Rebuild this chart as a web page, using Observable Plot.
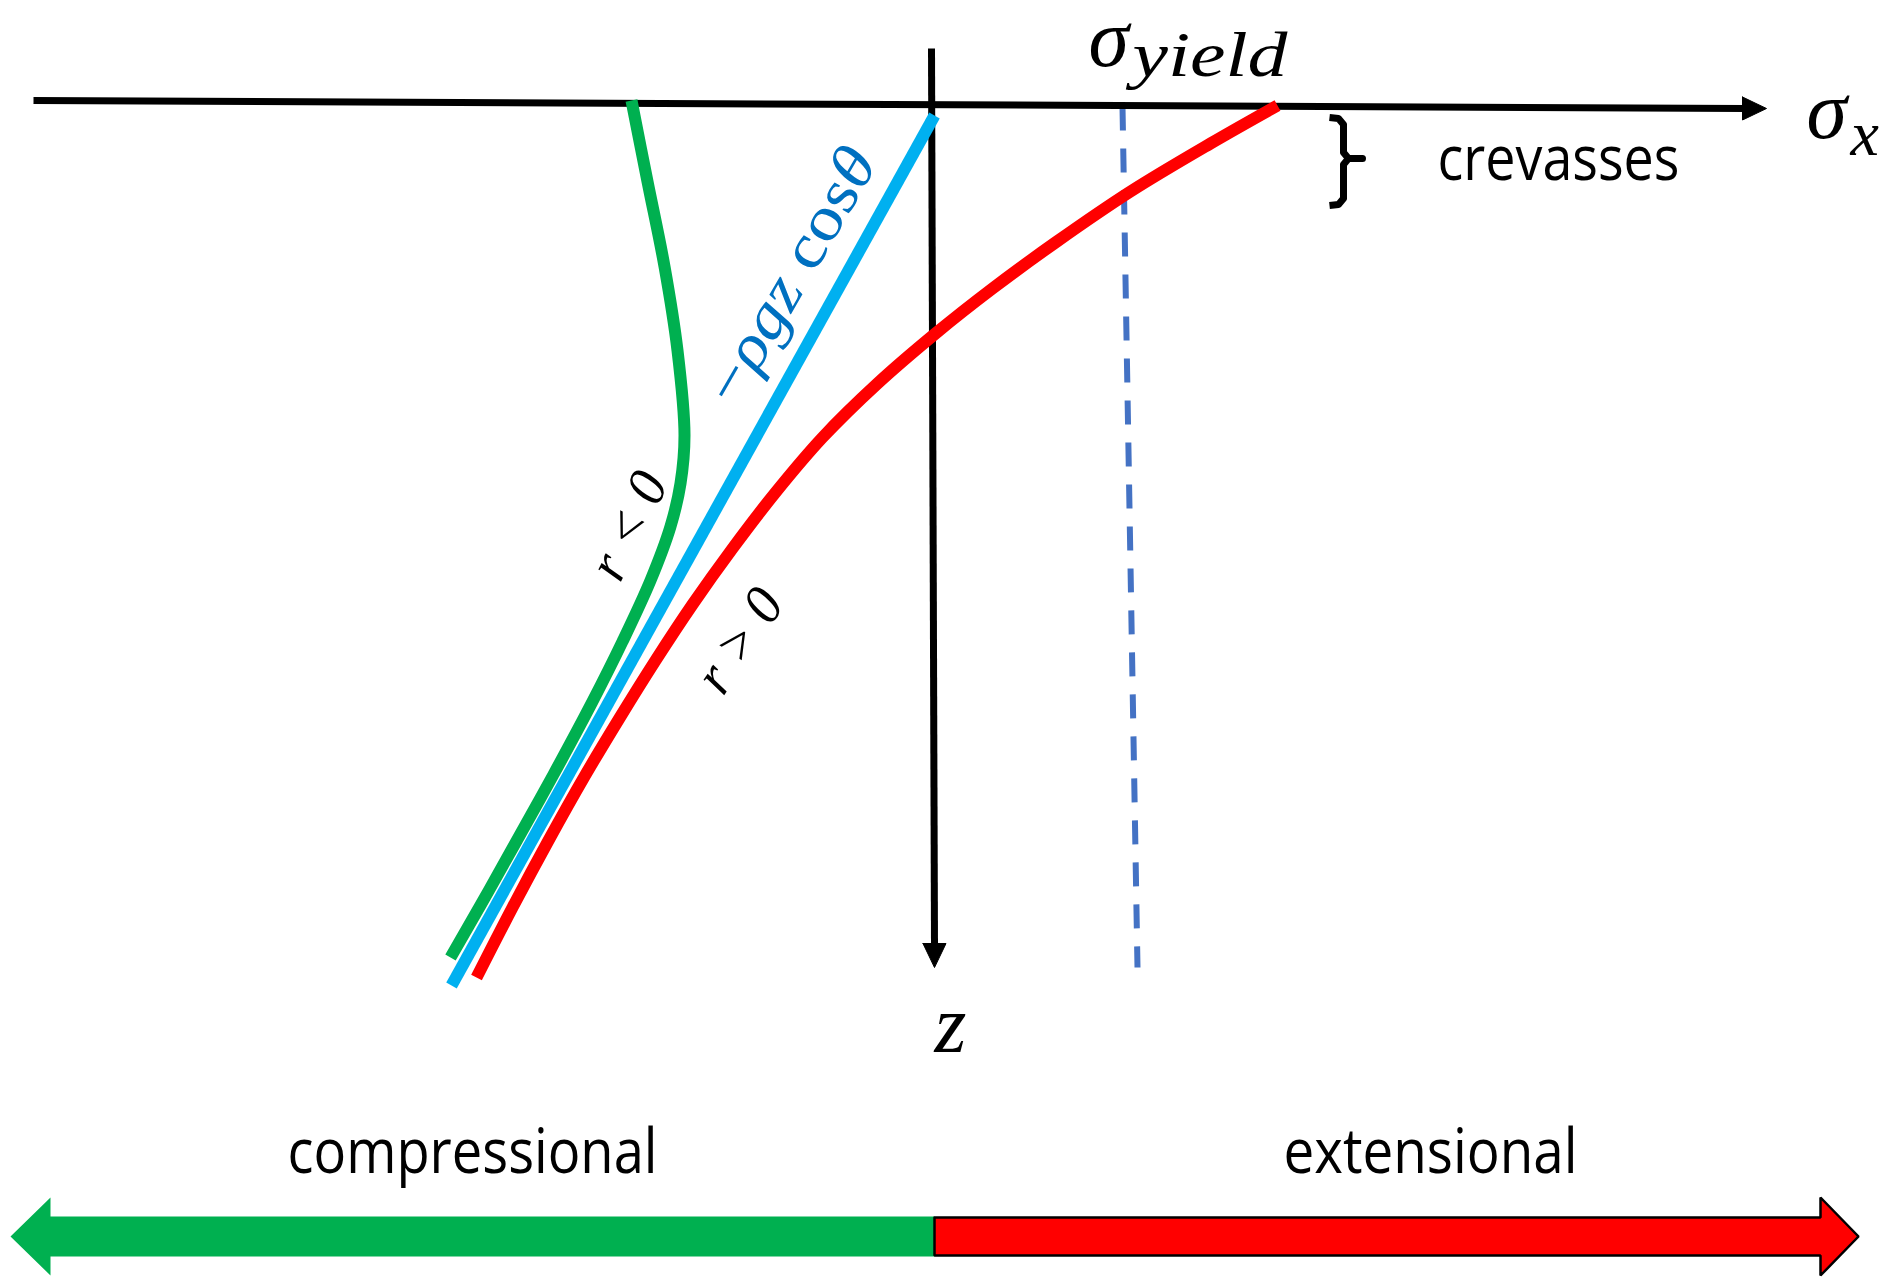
<!DOCTYPE html>
<html><head><meta charset="utf-8">
<script src="https://cdn.jsdelivr.net/npm/d3@7"></script>
<script src="https://cdn.jsdelivr.net/npm/@observablehq/plot@0.6"></script>
<style>html,body{margin:0;padding:0;background:#fff;overflow:hidden}</style>
</head><body><div id="chart"></div>
<script>
// Diagram coordinates: s = sigma_x (horizontal), z = depth (downwards)
const rNegative = [[-3.03,-0.05],[-2.87,0.76],[-2.70,1.61],[-2.57,2.45],[-2.50,3.30],[-2.54,3.78],[-2.64,4.21],[-2.84,4.75],[-3.12,5.36],[-3.42,5.96],[-3.81,6.69],[-4.21,7.41],[-4.53,7.98],[-4.84,8.52]];
const hydrostatic = [[0.00,0.10],[-4.83,8.80]];
const rPositive = [[3.43,0.00],[2.76,0.38],[1.96,0.86],[1.21,1.37],[0.58,1.83],[0.01,2.28],[-0.57,2.78],[-1.12,3.32],[-1.59,3.87],[-2.02,4.43],[-2.42,4.99],[-2.79,5.55],[-3.14,6.11],[-3.50,6.71],[-3.86,7.35],[-4.22,8.02],[-4.58,8.72]];
const yieldLine = [[1.88,0.01],[2.03,8.62]];
const sigmaAxis = [[-9.01,-0.05],[8.10,0.03]];
const sigmaHead = [[8.08,-0.085],[8.32,0.03],[8.08,0.145],[8.08,-0.085]];
const zAxis = [[-0.03,-0.57],[0.00,8.40]];
const zHead = [[-0.115,8.38],[0.00,8.62],[0.115,8.38],[-0.115,8.38]];
const crevasseBrace = [[3.95,0.12],[4.04,0.13],[4.09,0.19],[4.09,0.47],[4.14,0.53],[4.28,0.53],[4.14,0.53],[4.09,0.59],[4.09,0.93],[4.04,0.99],[3.95,1.00]];
const compressionalArrow = [[0,11.11],[-8.84,11.11],[-8.84,10.92],[-9.24,11.31],[-8.84,11.70],[-8.84,11.51],[0,11.51],[0,11.11]];
const extensionalArrow = [[0,11.12],[8.86,11.12],[8.86,10.92],[9.24,11.31],[8.86,11.70],[8.86,11.50],[0,11.50],[0,11.12]];

const mathLabels = [
  {t:"σ", s:1.54, z:-0.66},
  {t:"σ", s:8.72, z:0.06},
  {t:"z", s:0.00, z:9.20}
];
const subLabels = [
  {t:"yield", s:1.98, z:-0.50},
  {t:"x", s:9.16, z:0.29}
];
const curveLabels = [
  {t:"−ρgz cosθ", s:-1.44, z:1.70, angle:-60},
  {t:"r < 0", s:-3.06, z:4.20, angle:-64},
  {t:"r > 0", s:-1.95, z:5.35, angle:-56}
];
const sideLabels = [{t:"crevasses", s:5.03, z:0.55}];
const regimeLabels = [
  {t:"compressional", s:-4.62, z:10.48},
  {t:"extensional", s:4.96, z:10.48}
];
const textLengths = {"crevasses":242, "compressional":370, "extensional":294, "yield":155, "−ρgz cosθ":285, "r < 0":112, "r > 0":112};

const W = 1895, H = 1278;
const mathFont = "Liberation Serif", sansFont = "Open Sans";
const X = d => d[0], Y = d => d[1];

const svg = Plot.plot({
  width: W, height: H, margin: 0,
  x: {domain: [-9.34, 9.61], range: [0, W], axis: null},
  y: {domain: [-1.05, 11.73], range: [0, H], axis: null},
  style: {background: "white", overflow: "visible"},
  marks: [
    Plot.line(yieldLine, {x: X, y: Y, stroke: "#4472C4", strokeWidth: 6, strokeDasharray: "24,18", strokeLinecap: "butt"}),
    Plot.line(sigmaAxis, {x: X, y: Y, stroke: "black", strokeWidth: 7, strokeLinecap: "butt"}),
    Plot.line(sigmaHead, {x: X, y: Y, fill: "black", stroke: "black", strokeWidth: 1}),
    Plot.line(zAxis, {x: X, y: Y, stroke: "black", strokeWidth: 7, strokeLinecap: "butt"}),
    Plot.line(zHead, {x: X, y: Y, fill: "black", stroke: "black", strokeWidth: 1}),
    Plot.line(rNegative, {x: X, y: Y, stroke: "#00B050", strokeWidth: 12, strokeLinecap: "butt", curve: "catmull-rom"}),
    Plot.line(hydrostatic, {x: X, y: Y, stroke: "#00B0F0", strokeWidth: 12, strokeLinecap: "butt"}),
    Plot.line(rPositive, {x: X, y: Y, stroke: "#FF0000", strokeWidth: 12, strokeLinecap: "butt", curve: "catmull-rom"}),
    Plot.line(crevasseBrace, {x: X, y: Y, stroke: "black", strokeWidth: 7, strokeLinejoin: "round", strokeLinecap: "butt"}),
    Plot.line(compressionalArrow, {x: X, y: Y, fill: "#00B050", stroke: "none"}),
    Plot.line(extensionalArrow, {x: X, y: Y, fill: "#FF0000", stroke: "black", strokeWidth: 2.5, strokeLinejoin: "miter"}),
    Plot.text(mathLabels, {x: "s", y: "z", text: "t", fontFamily: mathFont, fontStyle: "italic", fontSize: 82, textAnchor: "start", fill: "black"}),
    Plot.text(subLabels, {x: "s", y: "z", text: "t", fontFamily: mathFont, fontStyle: "italic", fontSize: 64, textAnchor: "start", fill: "black"}),
    Plot.text(curveLabels.slice(0,1), {x: "s", y: "z", text: "t", rotate: d => d.angle, fontFamily: mathFont, fontStyle: "italic", fontSize: 62, fill: "#0070C0"}),
    Plot.text(curveLabels.slice(1), {x: "s", y: "z", text: "t", rotate: d => d.angle, fontFamily: mathFont, fontStyle: "italic", fontSize: 56, fill: "black"}),
    Plot.text(sideLabels, {x: "s", y: "z", text: "t", fontFamily: sansFont, fontSize: 62, textAnchor: "start", fill: "black"}),
    Plot.text(regimeLabels, {x: "s", y: "z", text: "t", fontFamily: sansFont, fontSize: 62, fill: "black"})
  ]
});

// fit label widths and mix upright/italic glyphs in the formula
d3.select(svg).selectAll("text").each(function() {
  const t = this.textContent;
  if (textLengths[t]) {
    this.setAttribute("textLength", textLengths[t]);
    this.setAttribute("lengthAdjust", "spacingAndGlyphs");
  }
  if (t === "−ρgz cosθ") {
    const el = d3.select(this).text(null);
    [["−","normal"],["ρgz","italic"],[" cos","normal"],["θ","italic"]].forEach(([s, st]) => el.append("tspan").attr("font-style", st).text(s));
  }
});

document.getElementById("chart").appendChild(svg);
</script></body></html>
